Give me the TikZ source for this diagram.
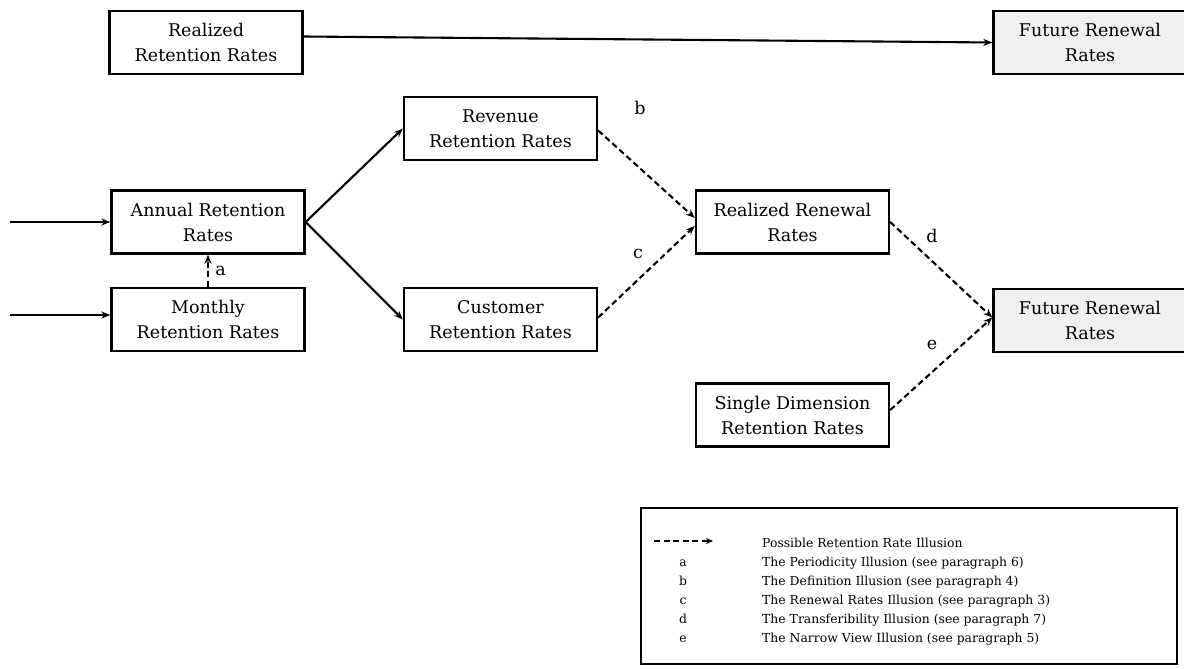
\documentclass[tikz,border=0pt]{standalone}
\usepackage{fontspec}
\setmainfont{DejaVu Serif}
\usetikzlibrary{calc, arrows.meta}

\begin{document}
\begin{tikzpicture}[x=1pt, y=-1pt,
        box/.style={draw, line width=2.4pt, minimum width=193pt, minimum height=63pt, align=center, inner sep=2pt, font=\fontsize{17.5}{25}\selectfont},
        goal/.style={box, fill=gray!12},
        link/.style={line width=2.1pt, -{Stealth[length=9pt, width=7pt]}},
        illusion/.style={link, dash pattern=on 6pt off 3.5pt},
        tag/.style={font=\fontsize{17.5}{20}\selectfont},
        legend/.style={font=\fontsize{12.4}{15}\selectfont, anchor=base west, inner sep=0pt}]
        \useasboundingbox (0,0) rectangle (1184,669);

        \node[box] (realret) at (206,42.5) {Realized\\Retention Rates};
        \node[goal] (future1) at (1090,42.5) {Future Renewal\\Rates};
        \node[box] (revenue) at (500.5,128.5) {Revenue\\Retention Rates};
        \node[box] (annual) at (208,222) {Annual Retention\\Rates};
        \node[box] (monthly) at (208,319.5) {Monthly\\Retention Rates};
        \node[box] (customer) at (500.5,319.5) {Customer\\Retention Rates};
        \node[box] (realren) at (792.5,222) {Realized Renewal\\Rates};
        \node[goal] (future2) at (1090,320.5) {Future Renewal\\Rates};
        \node[box] (single) at (792.5,415) {Single Dimension\\Retention Rates};

        \coordinate (inA) at (10,222);
        \coordinate (inM) at (10,315);

        \draw[link] ($(realret.east)+(0,-6)$) -- (future1.west);
        \draw[link] (inA) -- (annual.west);
        \draw[link] (inM) -- (monthly.west |- inM);
        \draw[link] (annual.east) -- (revenue.west);
        \draw[link] (annual.east) -- (customer.west);

        \draw[illusion] (monthly.north) -- node[tag, right=3pt] {a} (annual.south);
        \draw[illusion] ($(revenue.east)+(0,2)$) -- ($(realren.west)+(0,-4)$);
        \draw[illusion] ($(customer.east)+(0,-2)$) -- ($(realren.west)+(0,4)$);
        \draw[illusion] (realren.east) -- ($(future2.west)+(0,-3)$);
        \draw[illusion] ($(single.east)+(0,-5)$) -- ($(future2.west)+(0,-3)$);

        \node[tag] (lb) at (640,108) {b};
        \node[tag] (lc) at (638,254) {c};
        \node[tag] (ld) at (932,236) {d};
        \node[tag] (le) at (932,345) {e};

        \node[draw, line width=2.2pt, minimum width=536pt, minimum height=156pt] (key) at (909,586) {};
        \coordinate (k0) at (654,541);
        \coordinate (k1) at (713,541);
        \draw[illusion, line width=1.8pt, -{Stealth[length=7pt, width=6pt]}] (k0) -- (k1);
        \node[legend] (t0) at (762,547) {Possible Retention Rate Illusion};
        \foreach \l/\t [count=\i] in {a/The Periodicity Illusion (see paragraph 6),
                b/The Definition Illusion (see paragraph 4),
                c/The Renewal Rates Illusion (see paragraph 3),
                d/The Transferibility Illusion (see paragraph 7),
                e/The Narrow View Illusion (see paragraph 5)} {
            \node[legend, anchor=base] (l\i) at (683,547+19*\i) {\l};
            \node[legend] (t\i) at (762,547+19*\i) {\t};
        }
    \end{tikzpicture}
\end{document}
